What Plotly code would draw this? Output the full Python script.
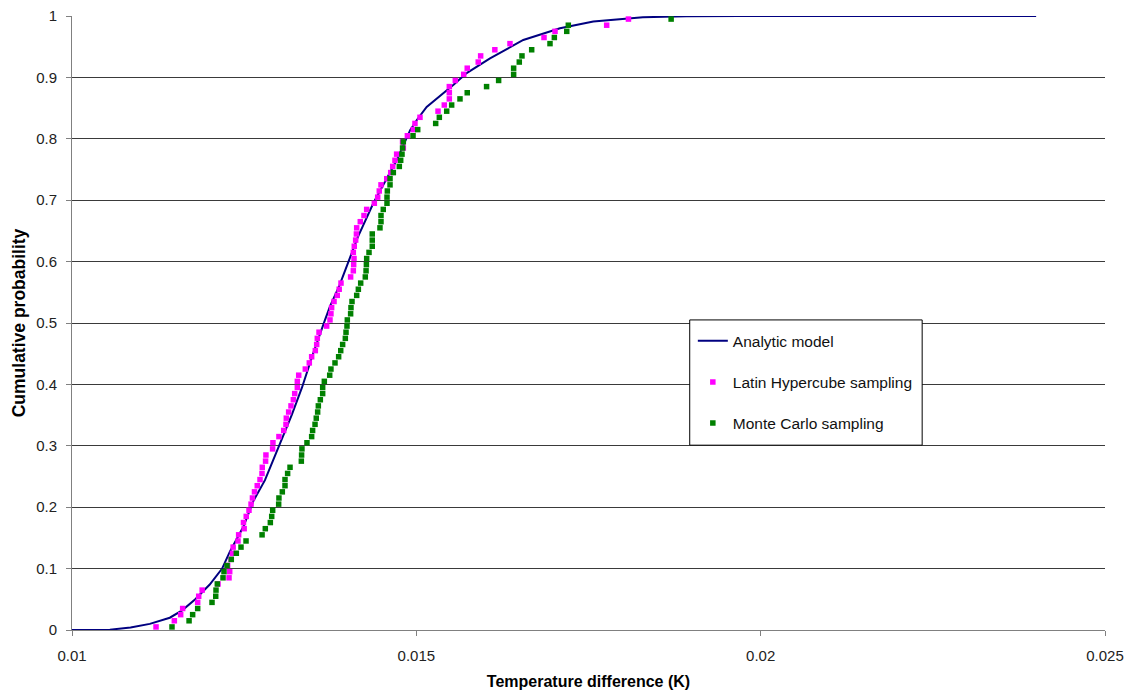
import plotly.graph_objects as go

# ---------------- data ----------------
analytic_x = [0.0100, 0.01055, 0.01085, 0.01113, 0.01142, 0.01160, 0.01179, 0.01200, 0.01218,
              0.012294, 0.012488, 0.012633, 0.012802, 0.01302, 0.01319, 0.01334, 0.0135, 0.013674,
              0.013746, 0.01388, 0.014037, 0.01415, 0.014375, 0.014714, 0.01491, 0.01501, 0.01515,
              0.01534, 0.01554, 0.015731, 0.01607, 0.016553, 0.017086, 0.01757,
              0.018054, 0.01829, 0.01892, 0.0197, 0.0240]
analytic_y = [0.0, 0.0005, 0.004, 0.010, 0.020, 0.032, 0.050, 0.074, 0.100,
              0.128, 0.168, 0.210, 0.244, 0.304, 0.350, 0.395, 0.450, 0.505,
              0.527, 0.560, 0.608, 0.640, 0.695, 0.765, 0.814, 0.831, 0.852,
              0.869, 0.888, 0.907, 0.931, 0.961, 0.980, 0.991,
              0.996, 0.998, 0.9995, 1.0, 1.0]

prob_levels = [0.005, 0.015, 0.025, 0.035, 0.045, 0.055, 0.065, 0.075, 0.085, 0.095,
               0.105, 0.115, 0.125, 0.135, 0.145, 0.155, 0.165, 0.175, 0.185, 0.195,
               0.205, 0.215, 0.225, 0.235, 0.245, 0.255, 0.265, 0.275, 0.285, 0.295,
               0.305, 0.315, 0.325, 0.335, 0.345, 0.355, 0.365, 0.375, 0.385, 0.395,
               0.405, 0.415, 0.425, 0.435, 0.445, 0.455, 0.465, 0.475, 0.485, 0.495,
               0.505, 0.515, 0.525, 0.535, 0.545, 0.555, 0.565, 0.575, 0.585, 0.595,
               0.605, 0.615, 0.625, 0.635, 0.645, 0.655, 0.665, 0.675, 0.685, 0.695,
               0.705, 0.715, 0.725, 0.735, 0.745, 0.755, 0.765, 0.775, 0.785, 0.795,
               0.805, 0.815, 0.825, 0.835, 0.845, 0.855, 0.865, 0.875, 0.885, 0.895,
               0.905, 0.915, 0.925, 0.935, 0.945, 0.955, 0.965, 0.975, 0.985, 0.995]

lhs_x = [0.01122, 0.011486, 0.011578, 0.011607, 0.011825, 0.01184, 0.01189, 0.01212, 0.01228, 0.01229,
         0.01226, 0.01231, 0.01233, 0.01234, 0.01241, 0.01242, 0.0125, 0.01249, 0.01253, 0.01257,
         0.0126, 0.01262, 0.01265, 0.01269, 0.01273, 0.012759, 0.012763, 0.012811, 0.012816, 0.012913,
         0.012918, 0.013005, 0.013074, 0.013107, 0.013112, 0.013146, 0.01318, 0.013214, 0.013234, 0.013272,
         0.013272, 0.013292, 0.013388, 0.013446, 0.01348, 0.013533, 0.013553, 0.013562, 0.013587, 0.013698,
         0.013746, 0.01376, 0.01377, 0.013805, 0.013852, 0.01388, 0.013906, 0.014046, 0.014085, 0.01409,
         0.014095, 0.014085, 0.014099, 0.014119, 0.01413, 0.014134, 0.014186, 0.01424, 0.014279, 0.01439,
         0.014439, 0.014462, 0.014487, 0.01457, 0.014628, 0.014657, 0.01469, 0.014714, 0.014811, 0.0148,
         0.01487, 0.014956, 0.01498, 0.015053, 0.015315, 0.015406, 0.015479, 0.015479, 0.015479, 0.015566,
         0.015688, 0.015739, 0.015899, 0.015934, 0.01614, 0.01636, 0.016854, 0.017014, 0.017764, 0.01808]

mc_x = [0.011452, 0.0117, 0.011752, 0.011825, 0.012033, 0.012087, 0.012091, 0.01211, 0.012193, 0.012207,
        0.012251, 0.012313, 0.012386, 0.012454, 0.012527, 0.01276, 0.012807, 0.01288, 0.0129, 0.012914,
        0.013001, 0.013005, 0.013054, 0.013093, 0.013093, 0.013131, 0.013166, 0.01333, 0.013334, 0.013339,
        0.013412, 0.01348, 0.013494, 0.013529, 0.013547, 0.013567, 0.013577, 0.013606, 0.01364, 0.01364,
        0.013664, 0.013742, 0.01376, 0.013819, 0.013872, 0.013902, 0.01393, 0.013969, 0.013979, 0.013993,
        0.013998, 0.014046, 0.014051, 0.014066, 0.014134, 0.014158, 0.014192, 0.014259, 0.01427, 0.014275,
        0.014279, 0.014313, 0.01436, 0.01436, 0.01436, 0.014472, 0.014487, 0.014487, 0.01452, 0.014574,
        0.014574, 0.014579, 0.014618, 0.014618, 0.014666, 0.014753, 0.014773, 0.014792, 0.0148, 0.014811,
        0.014952, 0.01502, 0.015281, 0.015334, 0.015441, 0.015513, 0.015634, 0.015739, 0.01602, 0.016195,
        0.016413, 0.016413, 0.016495, 0.016534, 0.016675, 0.016941, 0.017004, 0.017184, 0.017207, 0.0187]

x_tickvals = [0.01, 0.015, 0.02, 0.025]
x_ticktext = ["0.01", "0.015", "0.02", "0.025"]
y_tickvals = [0, 0.1, 0.2, 0.3, 0.4, 0.5, 0.6, 0.7, 0.8, 0.9, 1]
y_ticktext = ["0", "0.1", "0.2", "0.3", "0.4", "0.5", "0.6", "0.7", "0.8", "0.9", "1"]

# ---------------- figure ----------------
fig = go.Figure()
fig.add_trace(go.Scatter(x=analytic_x, y=analytic_y, mode="lines", name="Analytic model",
                         legendgroup="a", legendrank=1,
                         line=dict(color="#000080", width=2)))
fig.add_trace(go.Scatter(x=lhs_x, y=prob_levels, mode="markers", name="Latin Hypercube sampling",
                         legendgroup="b", legendrank=2,
                         marker=dict(symbol="square", size=5.5, color="#FF00FF", line=dict(width=0))))
fig.add_trace(go.Scatter(x=mc_x, y=prob_levels, mode="markers", name="Monte Carlo sampling",
                         legendgroup="c", legendrank=3,
                         marker=dict(symbol="square", size=5.5, color="#008000", line=dict(width=0))))

font_family = "Liberation Sans, Arial, sans-serif"

fig.update_layout(
    width=1133, height=695,
    margin=dict(l=72, r=28, t=16, b=65, autoexpand=False),
    paper_bgcolor="white", plot_bgcolor="white",
    font=dict(family=font_family, size=15, color="#000000"),
    showlegend=True,
    legend=dict(x=0.601, y=0.498, xanchor="left", yanchor="top",
                bgcolor="rgba(0,0,0,0)", borderwidth=0,
                tracegroupgap=18, font=dict(size=15.5, family=font_family, color="#111111"),
                itemwidth=30),
    xaxis=dict(range=[0.01, 0.025], tickvals=x_tickvals, ticktext=x_ticktext, automargin=False,
               showgrid=False, zeroline=False, showline=True, linecolor="#808080", linewidth=1,
               ticks="outside", ticklen=5, tickcolor="#808080", ticklabelstandoff=7,
               tickfont=dict(size=15, color="#222222"),
               title=dict(text="<b>Temperature difference (K)</b>", font=dict(size=16), standoff=12)),
    yaxis=dict(range=[0, 1], tickvals=y_tickvals, ticktext=y_ticktext, automargin=False,
               showgrid=True, gridcolor="#3a3a3a", gridwidth=1, zeroline=False,
               showline=True, linecolor="#808080", linewidth=1,
               ticks="outside", ticklen=5, tickcolor="#808080", ticklabelstandoff=6,
               tickfont=dict(size=15, color="#222222"),
               title=dict(text="<b>Cumulative probability</b>", font=dict(size=17.5), standoff=6)),
    shapes=[dict(type="rect", xref="paper", yref="paper",
                 x0=0.598, x1=0.823, y0=0.301, y1=0.505,
                 fillcolor="white", line=dict(color="#000000", width=1), layer="above")],
)

fig.write_html("out.html")
